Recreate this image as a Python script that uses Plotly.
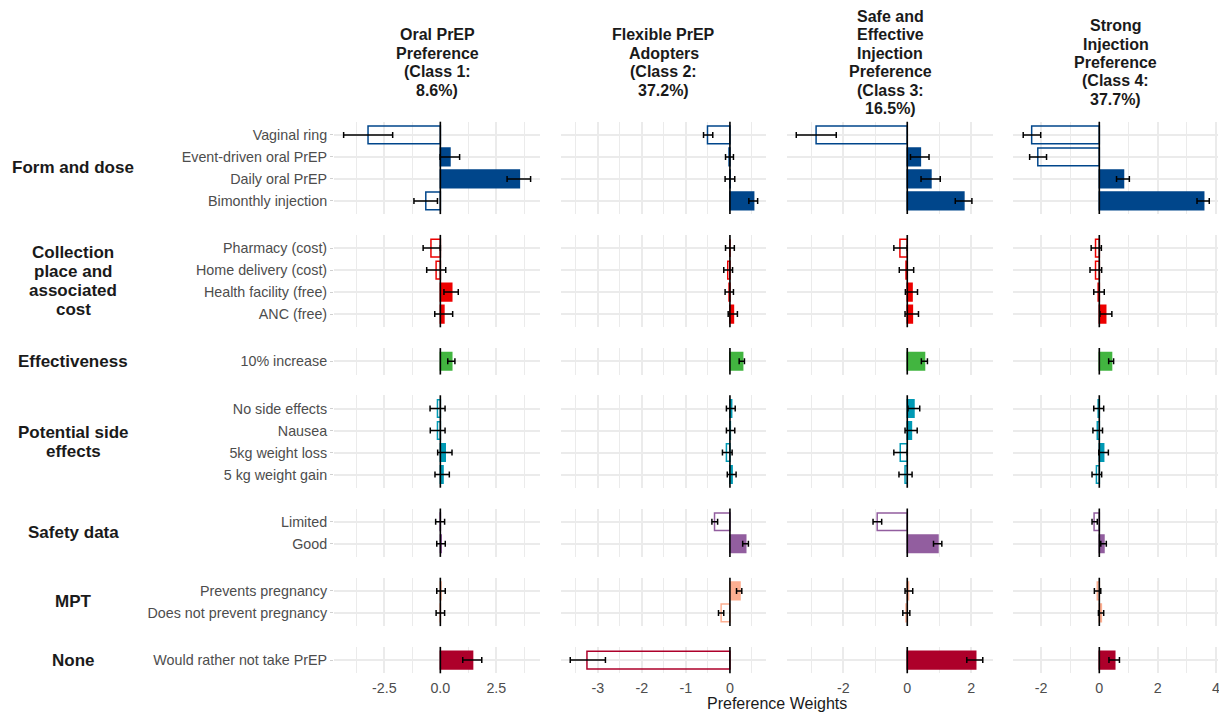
import plotly.graph_objects as go

# ---------------- data ----------------
group_names = ["Form and dose", "Collection place and associated cost", "Effectiveness",
               "Potential side effects", "Safety data", "MPT", "None"]
group_label_lines = [["Form and dose"], ["Collection", "place and", "associated", "cost"],
                     ["Effectiveness"], ["Potential side", "effects"], ["Safety data"],
                     ["MPT"], ["None"]]
group_colors = ["#00468B", "#ED0000", "#42B540", "#0099B4", "#925E9F", "#FDAF91", "#AD002A"]

levels = ["Vaginal ring", "Event-driven oral PrEP", "Daily oral PrEP", "Bimonthly injection",
          "Pharmacy (cost)", "Home delivery (cost)", "Health facility (free)", "ANC (free)",
          "10% increase",
          "No side effects", "Nausea", "5kg weight loss", "5 kg weight gain",
          "Limited", "Good",
          "Prevents pregnancy", "Does not prevent pregnancy",
          "Would rather not take PrEP"]
level_group = [0, 0, 0, 0, 1, 1, 1, 1, 2, 3, 3, 3, 3, 4, 4, 5, 5, 6]

class_title_lines = [["Oral PrEP", "Preference", "(Class 1:", "8.6%)"],
                     ["Flexible PrEP", "Adopters", "(Class 2:", "37.2%)"],
                     ["Safe and", "Effective", "Injection", "Preference", "(Class 3:", "16.5%)"],
                     ["Strong", "Injection", "Preference", "(Class 4:", "37.7%)"]]

est_c1 = [-3.23, 0.43, 3.53, -0.65, -0.42, -0.19, 0.51, 0.16, 0.51, -0.13, -0.13, 0.22, 0.12,
          -0.01, 0.04, 0.03, -0.01, 1.44]
lo_c1 = [-4.32, -0.01, 2.98, -1.18, -0.77, -0.61, 0.16, -0.25, 0.33, -0.46, -0.45, -0.12, -0.24,
         -0.21, -0.16, -0.16, -0.19, 1.00]
hi_c1 = [-2.13, 0.86, 4.03, -0.13, 0.00, 0.24, 0.80, 0.55, 0.65, 0.21, 0.21, 0.52, 0.40,
         0.19, 0.22, 0.22, 0.19, 1.85]

est_c2 = [-0.51, -0.02, 0.005, 0.54, 0.00, -0.05, -0.02, 0.08, 0.29, 0.04, 0.01, -0.08, 0.05,
          -0.35, 0.36, 0.23, -0.20, -3.25]
lo_c2 = [-0.60, -0.10, -0.11, 0.43, -0.10, -0.14, -0.11, -0.04, 0.21, -0.08, -0.08, -0.17, -0.06,
         -0.41, 0.29, 0.15, -0.26, -3.63]
hi_c2 = [-0.39, 0.08, 0.11, 0.63, 0.10, 0.06, 0.08, 0.17, 0.33, 0.12, 0.11, 0.05, 0.14,
         -0.28, 0.42, 0.27, -0.14, -2.83]

est_c3 = [-2.85, 0.41, 0.74, 1.77, -0.23, -0.04, 0.15, 0.16, 0.54, 0.21, 0.13, -0.22, -0.07,
          -0.94, 0.96, 0.04, -0.04, 2.14]
lo_c3 = [-3.47, 0.10, 0.43, 1.50, -0.42, -0.25, -0.06, -0.07, 0.44, 0.02, -0.07, -0.42, -0.26,
         -1.07, 0.82, -0.07, -0.14, 1.86]
hi_c3 = [-2.22, 0.68, 1.03, 2.02, 0.00, 0.20, 0.32, 0.35, 0.63, 0.39, 0.31, 0.00, 0.15,
         -0.80, 1.08, 0.17, 0.08, 2.36]

est_c4 = [-2.32, -2.11, 0.83, 3.58, -0.13, -0.13, -0.04, 0.22, 0.42, -0.04, -0.07, 0.15, -0.10,
          -0.18, 0.16, -0.07, 0.07, 0.53]
lo_c4 = [-2.61, -2.39, 0.59, 3.35, -0.28, -0.32, -0.19, 0.02, 0.32, -0.19, -0.22, -0.02, -0.25,
         -0.25, 0.05, -0.17, -0.03, 0.33]
hi_c4 = [-2.01, -1.81, 1.03, 3.77, 0.07, 0.08, 0.17, 0.43, 0.49, 0.15, 0.11, 0.31, 0.08,
         -0.07, 0.24, 0.05, 0.15, 0.69]

class_est = [est_c1, est_c2, est_c3, est_c4]
class_lo = [lo_c1, lo_c2, lo_c3, lo_c4]
class_hi = [hi_c1, hi_c2, hi_c3, hi_c4]

x_ranges = [[-4.75, 4.45], [-3.84, 0.82], [-3.75, 2.67], [-2.95, 4.08]]
x_tickvals = [[-2.5, 0.0, 2.5], [-3, -2, -1, 0], [-2, 0, 2], [-2, 0, 2, 4]]
x_ticktext = [["-2.5", "0.0", "2.5"], ["-3", "-2", "-1", "0"], ["-2", "0", "2"], ["-2", "0", "2", "4"]]
x_minor = [[-3.75, -1.25, 1.25, 3.75], [-3.5, -2.5, -1.5, -0.5, 0.5], [-3, -1, 1], [-3, -1, 1, 3]]

# ---------------- layout geometry (window pixels) ----------------
W, H = 1227, 717
OFF = 8  # page body margin
col_px = [(334, 540), (561, 766), (787.3, 992.7), (1013.3, 1218.3)]
row_top = 121.7
unit = 22.0
gap = 20.8

def px_x(p):
    return (p - OFF) / W

def px_y(p):
    return 1 - (p - OFF) / H

FONT = "Liberation Sans, Arial, sans-serif"
TEXT = "#1A1A1A"
TICK = "#4D4D4D"

fig = go.Figure()
layout = dict(
    width=W, height=H, margin=dict(l=0, r=0, t=0, b=0),
    template="none", plot_bgcolor="white", paper_bgcolor="white",
    showlegend=False, font=dict(family=FONT, color=TEXT),
)
annotations = []
shapes = []

def add_lines(lines, cx, cy, spacing, size):
    n = len(lines)
    for i, t in enumerate(lines):
        yy = cy + (i - (n - 1) / 2) * spacing
        annotations.append(dict(
            text=t, x=px_x(cx), y=px_y(yy), xref="paper", yref="paper",
            xanchor="center", yanchor="middle", showarrow=False,
            font=dict(size=size, color=TEXT, family=FONT, weight="bold"),
        ))

row_domains = []
y = row_top
for g in range(len(group_names)):
    n = sum(1 for lg in level_group if lg == g)
    h = (n + 0.2) * unit
    row_domains.append((y, y + h))
    y += h + gap

for g in range(len(group_names)):
    idx = [i for i, lg in enumerate(level_group) if lg == g]
    cats = [levels[i] for i in idx]
    n = len(cats)
    y0p, y1p = row_domains[g]
    col = group_colors[g]
    for k in range(4):
        ax = g * 4 + k + 1
        xname = "x" if ax == 1 else f"x{ax}"
        yname = "y" if ax == 1 else f"y{ax}"
        est = [class_est[k][i] for i in idx]
        lo = [class_lo[k][i] for i in idx]
        hi = [class_hi[k][i] for i in idx]
        fills = [col if v > 0 else "rgba(255,255,255,0)" for v in est]
        fig.add_trace(go.Bar(
            x=est, y=cats, orientation="h", width=0.8,
            marker=dict(color=fills, line=dict(color=col, width=1.5)),
            error_x=dict(type="data", symmetric=False,
                         array=[h_ - e for h_, e in zip(hi, est)],
                         arrayminus=[e - l for e, l in zip(est, lo)],
                         color="#000000", thickness=1.5, width=3),
            xaxis=xname, yaxis=yname, hoverinfo="x+y",
        ))
        x0p, x1p = col_px[k]
        layout["xaxis" if ax == 1 else f"xaxis{ax}"] = dict(
            domain=[px_x(x0p), px_x(x1p)], anchor=yname, range=x_ranges[k],
            tickvals=x_tickvals[k], ticktext=x_ticktext[k],
            showticklabels=(g == len(group_names) - 1),
            tickfont=dict(size=14.3, color=TICK, family=FONT),
            ticks="outside", ticklen=2, tickcolor="rgba(0,0,0,0)",
            showgrid=True, gridcolor="#EBEBEB", gridwidth=1.5,
            minor=dict(tickvals=x_minor[k], showgrid=True, gridcolor="#EBEBEB", gridwidth=1.0),
            zeroline=False, showline=False, automargin=False, fixedrange=True,
        )
        layout["yaxis" if ax == 1 else f"yaxis{ax}"] = dict(
            domain=[px_y(y1p), px_y(y0p)], anchor=xname, type="category",
            categoryorder="array", categoryarray=cats, range=[n - 1 + 0.6, -0.6],
            showticklabels=(k == 0), ticks="outside" if k == 0 else "", ticklen=3,
            tickcolor="#D0D0D0", tickwidth=1,
            tickfont=dict(size=14.3, color=TICK, family=FONT),
            showgrid=True, gridcolor="#EBEBEB", gridwidth=1.5,
            zeroline=False, showline=False, automargin=False, fixedrange=True,
        )
        shapes.append(dict(type="line", xref=xname, yref=f"{yname} domain",
                           x0=0, x1=0, y0=0, y1=1, layer="above",
                           line=dict(color="#000000", width=1.6)))
    add_lines(group_label_lines[g], 73, (y0p + y1p) / 2, 19, 17)

for k in range(4):
    x0p, x1p = col_px[k]
    add_lines(class_title_lines[k], (x0p + x1p) / 2, 62.5, 18.5, 16)

annotations.append(dict(
    text="Preference Weights", x=px_x(777), y=px_y(703.5), xref="paper", yref="paper",
    xanchor="center", yanchor="middle", showarrow=False,
    font=dict(size=16, color=TEXT, family=FONT),
))

layout["annotations"] = annotations
layout["shapes"] = shapes
fig.update_layout(**layout)
fig.write_html("out.html")
